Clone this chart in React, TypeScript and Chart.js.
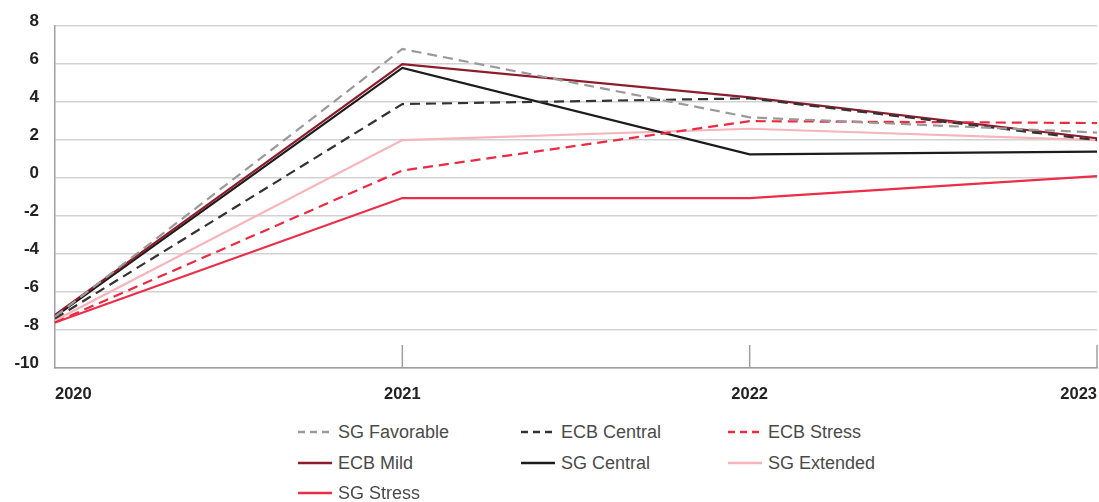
import React, { useEffect, useRef } from "react";
import { Chart, registerables } from "chart.js";

Chart.register(...registerables);

const years = ["2020", "2021", "2022", "2023"];
const yTicks = [-10, -8, -6, -4, -2, 0, 2, 4, 6, 8];

const sgFavorable = [-7.3, 6.8, 3.2, 2.4];
const ecbCentral = [-7.4, 3.9, 4.2, 2.0];
const ecbStress = [-7.6, 0.4, 3.0, 2.9];
const ecbMild = [-7.2, 6.0, 4.25, 2.1];
const sgCentral = [-7.3, 5.8, 1.25, 1.4];
const sgExtended = [-7.5, 2.0, 2.6, 2.0];
const sgStress = [-7.6, -1.05, -1.05, 0.1];

const seriesNames = [
  "SG Favorable",
  "ECB Central",
  "ECB Stress",
  "ECB Mild",
  "SG Central",
  "SG Extended",
  "SG Stress",
];
const seriesData = [sgFavorable, ecbCentral, ecbStress, ecbMild, sgCentral, sgExtended, sgStress];
const seriesColors = ["#9a9a9a", "#333333", "#ec2a42", "#8e1c2c", "#1c1c1c", "#f5b5bb", "#ec2d48"];
const seriesDashed = [true, true, true, false, false, false, false];

const FONT = "'Liberation Sans', Arial, Helvetica, sans-serif";

const shortTicks = {
  id: "shortTicks",
  beforeDatasetsDraw(chart: any) {
    const { ctx, chartArea, scales } = chart;
    const x = scales.x;
    ctx.save();
    ctx.strokeStyle = "#a0a0a0";
    ctx.lineWidth = 1.5;
    for (let i = 1; i < years.length; i++) {
      const px = x.getPixelForValue(i);
      ctx.beginPath();
      ctx.moveTo(px, chartArea.bottom - 23);
      ctx.lineTo(px, chartArea.bottom);
      ctx.stroke();
    }
    ctx.restore();
  },
};

export default function App() {
  const ref = useRef<HTMLCanvasElement>(null);
  useEffect(() => {
    if (!ref.current) return;
    const chart = new Chart(ref.current, {
      type: "line",
      data: {
        labels: years,
        datasets: seriesNames.map((name, i) => ({
          label: name,
          data: seriesData[i],
          borderColor: seriesColors[i],
          backgroundColor: seriesColors[i],
          borderWidth: 2.2,
          borderDash: seriesDashed[i] ? [10, 6] : [],
          pointRadius: 0,
          tension: 0,
          fill: false,
        })),
      },
      options: {
        animation: false,
        responsive: false,
        maintainAspectRatio: false,
        layout: { padding: { top: 25, right: 2, left: 0, bottom: 0 } },
        plugins: { legend: { display: false }, tooltip: { enabled: false } },
        scales: {
          x: {
            type: "category",
            offset: false,
            grid: { display: false, drawTicks: false },
            border: { display: true, color: "#a0a0a0", width: 1.5 },
            ticks: {
              align: "inner",
              padding: 17,
              color: "#222",
              font: { family: FONT, size: 16.5, weight: "bold" },
              maxRotation: 0,
            },
            afterFit(scale: any) {
              scale.height = 42;
              scale.paddingLeft = 0;
              scale.paddingRight = 0;
            },
          },
          y: {
            min: -10,
            max: 8,
            afterBuildTicks(scale: any) {
              scale.ticks = yTicks.map((v) => ({ value: v }));
            },
            grid: { color: "#d2d2d2", lineWidth: 1.5, drawTicks: false },
            border: { display: true, color: "#a0a0a0", width: 1.5 },
            ticks: {
              padding: 16,
              labelOffset: -5,
              color: "#222",
              font: { family: FONT, size: 17, weight: "bold" },
            },
            afterFit(scale: any) {
              scale.width = 55;
            },
          },
        },
      },
      plugins: [shortTicks],
    });
    return () => chart.destroy();
  }, []);

  const legendCols = [298, 521, 728];
  const legendRows = [432, 463, 493];

  return (
    <div style={{ position: "fixed", left: 0, top: 0, width: 1099, height: 502, background: "#fff" }}>
      <canvas ref={ref} width={1099} height={410} style={{ position: "absolute", left: 0, top: 0 }} />
      {seriesNames.map((name, i) => {
        const col = i % 3;
        const row = Math.floor(i / 3);
        const x = legendCols[col];
        const y = legendRows[row];
        return (
          <div
            key={name}
            style={{
              position: "absolute",
              left: x,
              top: y - 11,
              height: 22,
              display: "flex",
              alignItems: "center",
              fontFamily: FONT,
              fontSize: 18,
              color: "#4a4a4a",
              whiteSpace: "nowrap",
            }}
          >
            <svg width={34} height={6} style={{ marginRight: 6 }}>
              <line
                x1={0}
                y1={3}
                x2={34}
                y2={3}
                stroke={seriesColors[i]}
                strokeWidth={2.4}
                strokeDasharray={seriesDashed[i] ? "7 5" : undefined}
              />
            </svg>
            <span>{name}</span>
          </div>
        );
      })}
    </div>
  );
}
